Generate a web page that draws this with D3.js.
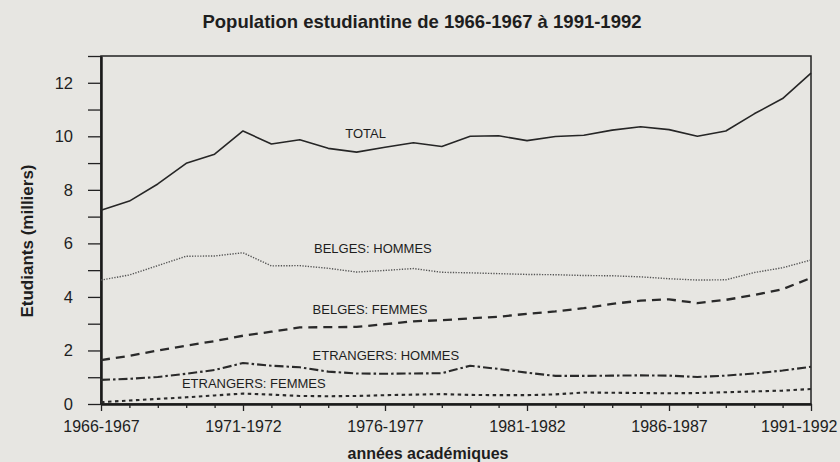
<!DOCTYPE html>
<html>
<head>
<meta charset="utf-8">
<script src="https://cdn.jsdelivr.net/npm/d3@7"></script>
<style>
  body { margin: 0; background: #e7e6e2; }
  svg { display: block; }
  text { font-family: "Liberation Sans", Arial, sans-serif; fill: #1e1e1e; }
</style>
</head>
<body>
<div id="content"></div>
<script>
// années académiques 1966-1967 .. 1991-1992
var years = ["1966-1967", "1967-1968", "1968-1969", "1969-1970", "1970-1971", "1971-1972",
  "1972-1973", "1973-1974", "1974-1975", "1975-1976", "1976-1977", "1977-1978",
  "1978-1979", "1979-1980", "1980-1981", "1981-1982", "1982-1983", "1983-1984",
  "1984-1985", "1985-1986", "1986-1987", "1987-1988", "1988-1989", "1989-1990",
  "1990-1991", "1991-1992"];
var yearLabels = ["1966-1967", "1971-1972", "1976-1977", "1981-1982", "1986-1987", "1991-1992"];

// étudiants, en milliers
var total = [7.24, 7.58, 8.22, 8.99, 9.33, 10.2, 9.71, 9.87, 9.55, 9.41, 9.59, 9.76, 9.62,
  10.0, 10.02, 9.84, 9.99, 10.04, 10.23, 10.36, 10.25, 10.0, 10.2, 10.84, 11.41, 12.36];
var belgesHommes = [4.63, 4.82, 5.17, 5.52, 5.53, 5.65, 5.16, 5.17, 5.07, 4.93, 4.99, 5.06, 4.92,
  4.9, 4.87, 4.84, 4.83, 4.8, 4.79, 4.75, 4.68, 4.63, 4.64, 4.91, 5.09, 5.38];
var belgesFemmes = [1.64, 1.8, 2.0, 2.18, 2.35, 2.55, 2.7, 2.86, 2.87, 2.88, 2.98, 3.09, 3.13,
  3.2, 3.26, 3.37, 3.46, 3.58, 3.74, 3.86, 3.91, 3.77, 3.89, 4.07, 4.29, 4.71];
var etrangersHommes = [0.9, 0.94, 1.01, 1.13, 1.27, 1.53, 1.43, 1.37, 1.21, 1.14, 1.13, 1.14, 1.15,
  1.43, 1.31, 1.17, 1.05, 1.05, 1.06, 1.07, 1.06, 1.01, 1.06, 1.14, 1.25, 1.39];
var etrangersFemmes = [0.07, 0.13, 0.19, 0.25, 0.32, 0.39, 0.35, 0.3, 0.29, 0.3, 0.33, 0.35, 0.37,
  0.34, 0.33, 0.33, 0.36, 0.43, 0.42, 0.41, 0.4, 0.41, 0.44, 0.47, 0.5, 0.56];

var yTicks = [0, 1, 2, 3, 4, 5, 6, 7, 8, 9, 10, 11, 12, 13];
var yLabels = [0, 2, 4, 6, 8, 10, 12];

// libellés des courbes: texte, index année, valeur
var seriesNames = ["TOTAL", "BELGES: HOMMES", "BELGES: FEMMES", "ETRANGERS: HOMMES", "ETRANGERS: FEMMES"];
var labelYearIdx = [8.6, 7.5, 7.45, 7.45, 2.85];
var labelValue = [9.94, 5.64, 3.36, 1.64, 0.6];

var width = 840;
var height = 462;
var padding = { top: 56, right: 29, bottom: 58, left: 101 };

var svg = d3.select("#content").append("svg")
  .attr("width", width)
  .attr("height", height);

var xScale = d3.scaleLinear()
  .domain([0, years.length - 1])
  .range([padding.left, width - padding.right]);

var yScale = d3.scaleLinear()
  .domain([0, 13])
  .range([height - padding.bottom, padding.top]);

// cadre
svg.append("rect")
  .attr("x", xScale(0))
  .attr("y", yScale(13))
  .attr("width", xScale(years.length - 1) - xScale(0))
  .attr("height", yScale(0) - yScale(13))
  .attr("fill", "none")
  .attr("stroke", "#222")
  .attr("stroke-width", 1.5);

// axe Y
var yAxis = d3.axisLeft(yScale)
  .tickValues(yTicks)
  .tickSize(13)
  .tickSizeOuter(0)
  .tickPadding(15)
  .tickFormat(function (d) { return yLabels.indexOf(d) >= 0 ? d : ""; });

var gy = svg.append("g")
  .attr("transform", "translate(" + padding.left + ",0)")
  .call(yAxis);
gy.select(".domain").attr("stroke", "#1a1a1a").attr("stroke-width", 2.5);
gy.selectAll(".tick line").attr("stroke", "#222").attr("stroke-width", 1.3);
gy.selectAll(".tick text").style("font-size", "16.5px").attr("fill", "#1e1e1e");

// axe X
var xAxis = d3.axisBottom(xScale)
  .tickValues(d3.range(years.length))
  .tickSize(4)
  .tickSizeOuter(0)
  .tickPadding(13)
  .tickFormat(function (d) { return yearLabels.indexOf(years[d]) >= 0 ? years[d] : ""; });

var gx = svg.append("g")
  .attr("transform", "translate(0," + yScale(0) + ")")
  .call(xAxis);
gx.select(".domain").attr("stroke", "#1a1a1a").attr("stroke-width", 2.5);
gx.selectAll(".tick line")
  .attr("stroke", "#222")
  .attr("stroke-width", 1.3)
  .attr("y2", function (d) { return d % 5 == 0 ? 7 : 4; });
gx.selectAll(".tick text").style("font-size", "16px").attr("fill", "#1e1e1e");
// le dernier libellé reste dans la page
gx.selectAll(".tick text")
  .filter(function (d) { return d == years.length - 1; })
  .style("text-anchor", "end")
  .attr("dx", 26);

// courbes
var line = d3.line()
  .x(function (d, i) { return xScale(i); })
  .y(function (d) { return yScale(d); });

var series = [
  { values: total, dash: null, w: 1.6, color: "#262626" },
  { values: belgesHommes, dash: "1.3,1.4", w: 1.4, color: "#555" },
  { values: belgesFemmes, dash: "9,6", w: 2.3, color: "#2a2a2a" },
  { values: etrangersHommes, dash: "9,3,2.5,3", w: 2.1, color: "#2a2a2a" },
  { values: etrangersFemmes, dash: "3.5,3.5", w: 2.1, color: "#2a2a2a" }
];

svg.append("g")
  .selectAll("path")
  .data(series)
  .enter()
  .append("path")
  .attr("d", function (d) { return line(d.values); })
  .attr("fill", "none")
  .attr("stroke", function (d) { return d.color; })
  .attr("stroke-width", function (d) { return d.w; })
  .attr("stroke-dasharray", function (d) { return d.dash; })
  .attr("stroke-linejoin", "round");

svg.append("g")
  .selectAll("text")
  .data(seriesNames)
  .enter()
  .append("text")
  .attr("x", function (d, i) { return xScale(labelYearIdx[i]); })
  .attr("y", function (d, i) { return yScale(labelValue[i]); })
  .style("font-size", "13px")
  .text(function (d) { return d; });

// titres
svg.append("text")
  .attr("x", 422)
  .attr("y", 28)
  .style("text-anchor", "middle")
  .style("font-size", "18.5px")
  .style("font-weight", "bold")
  .text("Population estudiantine de 1966-1967 à 1991-1992");

svg.append("text")
  .attr("x", 428)
  .attr("y", 459)
  .style("text-anchor", "middle")
  .style("font-size", "16px")
  .style("font-weight", "bold")
  .text("années académiques");

svg.append("text")
  .attr("transform", "translate(33,241) rotate(-90)")
  .style("text-anchor", "middle")
  .style("font-size", "17px")
  .style("font-weight", "bold")
  .text("Etudiants (milliers)");
</script>
</body>
</html>
